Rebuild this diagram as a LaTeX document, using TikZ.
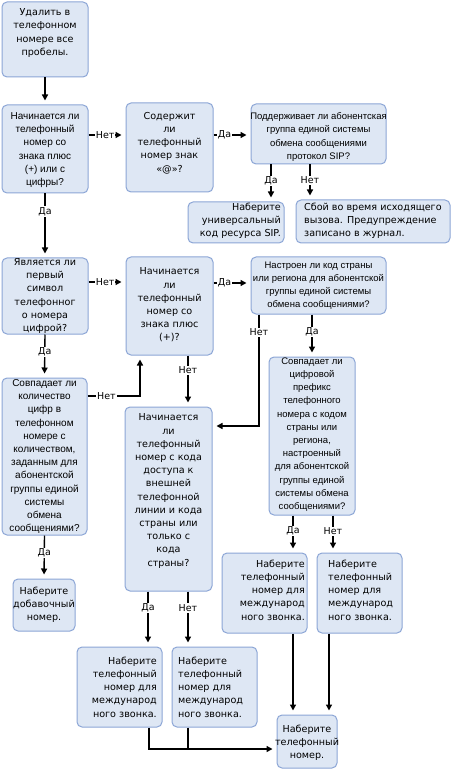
\documentclass[tikz,border=0pt]{standalone}
\usepackage{fontspec}
\setmainfont{DejaVu Sans}
\newfontfamily\narrowfont{Liberation Sans}
\usetikzlibrary{arrows.meta}
\definecolor{boxfill}{RGB}{222,231,244}
\definecolor{boxborder}{RGB}{140,166,214}
\begin{document}
\begin{tikzpicture}[x=1pt,y=-1pt,
 box/.style={draw=boxborder, fill=boxfill, line width=1pt, rounded corners=5pt, inner sep=0pt},
 txt/.style={inner sep=0pt, font=\fontsize{9.6}{13.2}\selectfont, align=center},
 ntxt/.style={inner sep=0pt, font=\narrowfont\fontsize{9.5}{13.2}\selectfont, align=center},
 wtxt/.style={inner sep=0pt, font=\narrowfont\fontsize{10}{13.2}\selectfont, align=center},
 conn/.style={line width=1.4pt, draw=black},
 arr/.style={conn, -{Triangle[length=6pt,width=6pt]}, shorten >=4pt},
 lbl/.style={fill=white, inner sep=1pt, font=\fontsize{9.5}{11}\selectfont},
]
\useasboundingbox (0,0) rectangle (452,775);
\fill[white] (0,0) rectangle (452,775);

% boxes
\node[box, minimum width=86, minimum height=75] (A) at (45,39.5) {};
\node[box, minimum width=86, minimum height=88] (B) at (45,149) {};
\node[box, minimum width=87, minimum height=89] (C) at (169.5,147.5) {};
\node[box, minimum width=135, minimum height=60] (D) at (318.5,134) {};
\node[box, minimum width=96, minimum height=41] (E) at (236,222.5) {};
\node[box, minimum width=154, minimum height=43] (F) at (373,221.5) {};
\node[box, minimum width=86, minimum height=76] (G) at (45,296) {};
\node[box, minimum width=87, minimum height=98] (H) at (169.5,306) {};
\node[box, minimum width=135, minimum height=57] (I) at (318.5,285.5) {};
\node[box, minimum width=85, minimum height=157] (J) at (44.5,456.5) {};
\node[box, minimum width=87, minimum height=184] (K) at (168.5,499) {};
\node[box, minimum width=86, minimum height=158] (L) at (312,436) {};
\node[box, minimum width=62, minimum height=52] (M) at (44,605) {};
\node[box, minimum width=85, minimum height=80] (N) at (119.5,687) {};
\node[box, minimum width=85, minimum height=80] (O) at (214.5,687) {};
\node[box, minimum width=85, minimum height=80] (P) at (264.5,593) {};
\node[box, minimum width=85, minimum height=80] (Q) at (359.5,593) {};
\node[box, minimum width=60, minimum height=53] (R) at (307,741.5) {};

% texts
\node[txt] (At) at (45,33) {Удалить в\\телефонном\\номере все\\пробелы.};
\node[wtxt] (Bt) at (45,150) {Начинается ли\\телефонный\\номер со\\знака плюс\\(+) или с\\цифры?};
\node[txt] (Ct) at (169.5,143) {Содержит\\ли\\телефонный\\номер знак\\«@»?};
\node[ntxt] (Dt) at (318.5,137) {Поддерживает ли абонентская\\группа единой системы\\обмена сообщениями\\протокол SIP?};
\node[txt, align=right, anchor=east] (Et) at (281,221) {Наберите\\универсальный\\код ресурса SIP.};
\node[txt, align=left, anchor=west] (Ft) at (304,221) {Сбой во время исходящего\\вызова. Предупреждение\\записано в журнал.};
\node[txt] (Gt) at (45,296) {Является ли\\первый\\символ\\телефонног\\о номера\\цифрой?};
\node[txt] (Ht) at (169.5,305) {Начинается\\ли\\телефонный\\номер со\\знака плюс\\(+)?};
\node[ntxt] (It) at (318.5,285.5) {Настроен ли код страны\\или региона для абонентской\\группы единой системы\\обмена сообщениями?};
\node[wtxt] (Jt) at (44.5,456.5) {Совпадает ли\\количество\\цифр в\\телефонном\\номере с\\количеством,\\заданным для\\абонентской\\группы единой\\системы\\обмена\\сообщениями?};
\node[txt] (Kt) at (168.5,491) {Начинается\\ли\\телефонный\\номер с кода\\доступа к\\внешней\\телефонной\\линии и кода\\страны или\\только с\\кода\\страны?};
\node[ntxt] (Lt) at (312,434.5) {Совпадает ли\\цифровой\\префикс\\телефонного\\номера с кодом\\страны или\\региона,\\настроенный\\для абонентской\\группы единой\\системы обмена\\сообщениями?};
\node[txt] (Mt) at (44,605) {Наберите\\добавочный\\номер.};
\node[txt, align=right, anchor=east] (Nt) at (157,687) {Наберите\\телефонный\\номер для\\международ\\ного звонка.};
\node[txt, align=left, anchor=west] (Ot) at (178,687) {Наберите\\телефонный\\номер для\\международ\\ного звонка.};
\node[txt, align=right, anchor=east] (Pt) at (305,590) {Наберите\\телефонный\\номер для\\международ\\ного звонка.};
\node[txt, align=left, anchor=west] (Qt) at (328,590) {Наберите\\телефонный\\номер для\\международ\\ного звонка.};
\node[txt] (Rt) at (307,742.5) {Наберите\\телефонный\\номер.};

% connectors
\draw[arr] (A.south) -- (B.north);
\draw[arr] ([yshift=14pt]B.east) -- node[lbl,pos=0.45]{Нет} ([yshift=14pt]B.east -| C.west);
\draw[arr] ([yshift=12.5pt]C.east) -- node[lbl,pos=0.3]{Да} ([yshift=12.5pt]C.east -| D.west);
\draw[arr] ([xshift=-47.5pt]D.south) -- node[lbl,pos=0.45]{Да} ([xshift=-47.5pt]D.south |- E.north);
\draw[arr] ([xshift=-8.5pt]D.south) -- node[lbl,pos=0.45]{Нет} ([xshift=-8.5pt]D.south |- F.north);
\draw[arr] (B.south) -- node[lbl,pos=0.28]{Да} (G.north);
\draw[arr] ([yshift=14pt]G.east) -- node[lbl,pos=0.45]{Нет} ([yshift=14pt]G.east -| H.west);
\draw[arr] ([yshift=23pt]H.east) -- node[lbl,pos=0.3]{Да} ([yshift=23pt]H.east -| I.west);
\draw[arr] (G.south) -- node[lbl,pos=0.41]{Да} (J.north);
\coordinate (jh) at (140,396);
\draw[arr] (J.east |- jh) -- node[lbl,pos=0.36]{Нет} (jh) -- (jh |- H.south);
\draw[arr] ([xshift=18.5pt]H.south) -- node[lbl,pos=0.29]{Нет} ([xshift=18.5pt]H.south |- K.north);
\coordinate (ik) at (259,426);
\draw[arr] (ik |- I.south) -- node[lbl,pos=0.16]{Нет} (ik) -- (ik -| K.east);
\draw[arr] (L.north |- I.south) -- node[lbl,pos=0.42]{Да} (L.north);
\draw[arr] (J.south) -- node[lbl,pos=0.41]{Да} (M.north);
\draw[arr] ([xshift=-20.5pt]K.south) -- node[lbl,pos=0.3]{Да} ([xshift=-20.5pt]K.south |- N.north);
\draw[arr] ([xshift=19.5pt]K.south) -- node[lbl,pos=0.3]{Нет} ([xshift=19.5pt]K.south |- O.north);
\draw[arr] ([xshift=-19pt]L.south) -- node[lbl,pos=0.42]{Да} ([xshift=-19pt]L.south |- P.north);
\draw[arr] ([xshift=21pt]L.south) -- node[lbl,pos=0.42]{Нет} ([xshift=21pt]L.south |- Q.north);
\draw[arr] ([xshift=28.5pt]P.south) -- ([xshift=28.5pt]P.south |- R.north);
\draw[arr] ([xshift=-30.5pt]Q.south) -- ([xshift=-30.5pt]Q.south |- R.north);
\coordinate (nr) at (149,749);
\draw[arr] ([xshift=29.5pt]N.south) -- (nr) -- (nr -| R.west);
\draw[conn] ([xshift=-26.5pt]O.south) -- ([xshift=-26.5pt]O.south |- nr);
\end{tikzpicture}
\end{document}
